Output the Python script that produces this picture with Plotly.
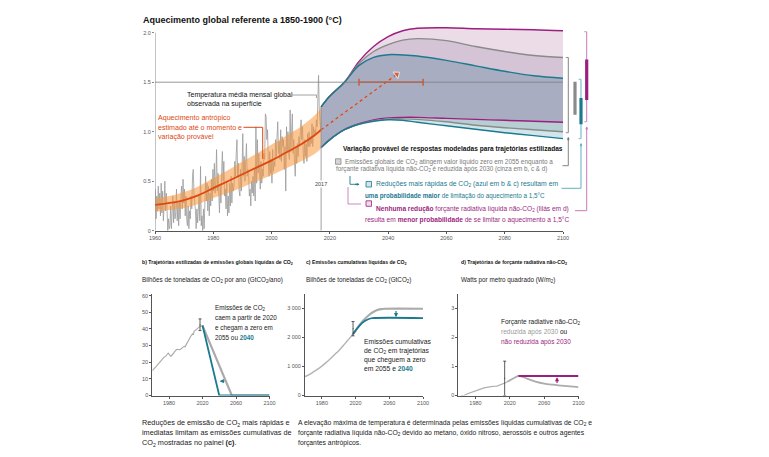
import plotly.graph_objects as go

W, H = 769, 457
FONT = "Liberation Sans, Arial, sans-serif"
TEAL = "#1b7a8f"
TEAL_LIGHT = "#5fb3c4"
PURPLE = "#9c1f80"
PURPLE_LIGHT = "#c77bb7"
ORANGE = "#e0480f"


def px(x):
    return x / W


def py(y):
    return 1 - y / H


# ---------------- DATA: panel a ----------------
temp_start_year = 1960
temp_quarterly = [
    0.42, 0.12, 0.35, 0.20, 0.45, 0.22, 0.38, 0.15, 0.48, 0.18, 0.40, 0.10,
    0.25, 0.50, 0.20, 0.38, 0.22, 0.00, 0.12, 0.02, 0.05, 0.25, 0.02, 0.22,
    0.35, 0.08, 0.30, 0.12, 0.18, 0.42, 0.10, 0.28, 0.05, 0.30, 0.12, 0.35,
    0.45, 0.22, 0.52, 0.28, 0.42, 0.15, 0.35, 0.12, 0.05, 0.25, 0.02, 0.20,
    0.12, 0.35, 0.22, 0.55, 0.62, 0.38, 0.30, 0.20, 0.02, 0.22, 0.08, 0.18,
    0.35, 0.10, 0.65, 0.05, 0.15, 0.00, 0.22, 0.02, 0.35, 0.55, 0.30, 0.48,
    0.20, 0.45, 0.15, 0.38, 0.25, 0.52, 0.30, 0.62, 0.40, 0.68, 0.38, 0.50,
    0.82, 0.40, 0.58, 0.30, 0.18, 0.45, 0.28, 0.60, 0.80, 0.50, 0.70, 0.35,
    0.42, 0.22, 0.50, 0.15, 0.35, 0.18, 0.48, 0.25, 0.55, 0.28, 0.48, 0.40,
    0.45, 0.70, 0.55, 0.78, 0.92, 0.55, 0.68, 0.40, 0.35, 0.62, 0.40, 0.60,
    0.98, 0.55, 0.75, 0.50, 0.70, 0.88, 0.55, 0.62, 0.58, 0.35, 0.42, 0.25,
    0.50, 0.38, 0.55, 0.35, 0.62, 0.30, 1.05, 0.48, 0.92, 0.58, 0.78, 0.50,
    0.42, 0.70, 0.48, 0.62, 0.55, 0.78, 0.72, 1.18, 1.15, 0.92, 1.02, 0.72,
    0.55, 0.80, 0.58, 0.72, 0.48, 0.82, 0.60, 0.70, 0.65, 0.92, 0.75, 0.95,
    1.10, 0.78, 0.90, 0.72, 1.02, 0.70, 0.95, 0.85, 0.92, 0.62, 0.85, 0.40,
    1.05, 0.80, 1.00, 0.78, 0.72, 1.22, 0.80, 1.00, 1.18, 0.78, 0.92, 0.70,
    0.55, 0.85, 0.68, 0.88, 0.75, 0.95, 0.85, 1.00, 1.12, 0.92, 1.05, 0.78,
    0.68, 0.92, 0.75, 0.88, 0.70, 0.98, 0.85, 1.00, 0.85, 0.95, 0.88, 1.08,
    0.85, 1.05, 0.95, 1.02, 0.98, 1.12, 1.05, 1.32, 1.57, 1.22, 1.10, 1.00,
    1.25, 1.05, 1.12, 1.02,
]

anth_years = [1960, 1965, 1970, 1975, 1980, 1985, 1990, 1995, 2000, 2005, 2010, 2015, 2017]
anth_central = [0.26, 0.28, 0.31, 0.36, 0.43, 0.50, 0.57, 0.64, 0.71, 0.79, 0.87, 0.97, 1.02]
anth_low = [0.19, 0.21, 0.23, 0.27, 0.33, 0.38, 0.44, 0.50, 0.56, 0.63, 0.70, 0.78, 0.83]
anth_high = [0.33, 0.35, 0.39, 0.45, 0.53, 0.61, 0.70, 0.78, 0.87, 0.96, 1.05, 1.17, 1.25]

extrap_years = [2017, 2043]
extrap_vals = [1.02, 1.58]
cross_range = [2030, 2052]
level_15 = 1.5

fan_years = [2017, 2020, 2025, 2030, 2035, 2040, 2045, 2050, 2060, 2070, 2080, 2090, 2100]
purple_top = [1.25, 1.36, 1.50, 1.71, 1.86, 1.96, 2.02, 2.045, 2.05, 2.04, 2.035, 2.03, 2.02]
gray_top = [1.25, 1.36, 1.50, 1.69, 1.81, 1.88, 1.925, 1.94, 1.92, 1.86, 1.81, 1.77, 1.75]
teal_top = [1.25, 1.36, 1.50, 1.67, 1.75, 1.778, 1.775, 1.765, 1.72, 1.665, 1.61, 1.565, 1.54]
purple_bot = [0.84, 0.92, 1.02, 1.08, 1.12, 1.14, 1.145, 1.145, 1.135, 1.125, 1.115, 1.105, 1.095]
gray_bot = [0.84, 0.92, 1.02, 1.078, 1.11, 1.13, 1.13, 1.125, 1.10, 1.065, 1.04, 1.02, 1.00]
teal_bot = [0.84, 0.92, 1.02, 1.075, 1.105, 1.12, 1.115, 1.095, 1.06, 1.025, 0.99, 0.96, 0.93]

# ranges shown right of 2100 (thin = full, thick = inner)
rng_gray_thin = [0.99, 1.75]
rng_gray_thick = [1.17, 1.505]
rng_teal_thin = [0.93, 1.53]
rng_teal_thick = [1.075, 1.34]
rng_purple_thin = [1.10, 2.01]
rng_purple_thick = [1.32, 1.73]

# ---------------- DATA: panel b ----------------
emis_years = [1960, 1962, 1964, 1966, 1968, 1970, 1972, 1974, 1976, 1978, 1979, 1980, 1982,
              1983, 1985, 1987, 1989, 1990, 1992, 1994, 1996, 1998, 1999, 2000, 2002, 2004,
              2006, 2008, 2009, 2010, 2012, 2014, 2016, 2017, 2020]
emis_hist = [15.0, 15.8, 17.0, 18.3, 19.6, 21.0, 22.0, 23.0, 23.5, 24.6, 25.5, 24.9, 23.6,
             23.9, 25.5, 26.5, 27.6, 27.8, 27.5, 27.8, 28.8, 29.5, 29.2, 30.2, 31.2, 33.6,
             35.6, 37.0, 36.4, 38.6, 39.6, 40.5, 41.0, 41.5, 42.0]
emis_gray_years = [2020, 2055, 2100]
emis_gray_proj = [42.0, 0.0, 0.0]
emis_teal_years = [2020, 2040, 2100]
emis_teal_proj = [42.0, 0.0, 0.0]
emis_unc_year = 2017
emis_unc = [39.0, 46.0]

# ---------------- DATA: panel c ----------------
cum_years = [1960, 1965, 1970, 1975, 1980, 1985, 1990, 1995, 2000, 2005, 2010, 2015, 2017]
cum_hist = [650, 720, 810, 905, 1010, 1130, 1260, 1400, 1540, 1700, 1870, 2040, 2110]
cum_gray_years = [2017, 2020, 2025, 2030, 2035, 2040, 2045, 2050, 2055, 2100]
cum_gray_proj = [2110, 2230, 2430, 2600, 2740, 2850, 2925, 2965, 2980, 2980]
cum_teal_years = [2017, 2020, 2025, 2030, 2035, 2040, 2100]
cum_teal_proj = [2110, 2230, 2410, 2540, 2620, 2655, 2655]
cum_unc_year = 2017
cum_unc = [2050, 2540]

# ---------------- DATA: panel d ----------------
forc_years = [1963, 1966, 1970, 1975, 1980, 1985, 1990, 1995, 2000, 2005, 2010, 2015, 2017]
forc_hist = [0.0, -0.01, 0.05, 0.11, 0.16, 0.21, 0.26, 0.29, 0.31, 0.32, 0.37, 0.44, 0.47]
forc_gray_years = [2017, 2020, 2025, 2030, 2035, 2040, 2050, 2060, 2070, 2080, 2090, 2100]
forc_gray_proj = [0.47, 0.52, 0.60, 0.67, 0.64, 0.58, 0.48, 0.41, 0.37, 0.34, 0.31, 0.29]
forc_purple_years = [2030, 2100]
forc_purple_proj = [0.67, 0.67]
forc_unc_year = 2014
forc_unc = [0.0, 1.18]

# ================= FIGURE =================
fig = go.Figure()


def sc(**kw):
    kw.setdefault("hoverinfo", "skip")
    kw.setdefault("showlegend", False)
    fig.add_trace(go.Scatter(**kw))


# --- panel a ---
t_x = [temp_start_year + 0.125 + 0.25 * i for i in range(len(temp_quarterly))]
sc(x=t_x, y=temp_quarterly, mode="lines", line=dict(color="#9b9b9b", width=0.8), xaxis="x", yaxis="y")

sc(x=anth_years, y=anth_high, mode="lines", line=dict(width=0, shape="spline"), xaxis="x", yaxis="y")
sc(x=anth_years, y=anth_low, mode="lines", line=dict(width=0, shape="spline"), fill="tonexty",
   fillcolor="rgba(247,152,60,0.55)", xaxis="x", yaxis="y")
sc(x=anth_years, y=anth_central, mode="lines", line=dict(color=ORANGE, width=1.8, shape="spline"),
   xaxis="x", yaxis="y")

fan_fill = [
    (purple_top, None),
    (gray_top, "#ecdce8"),
    (teal_top, "#d5c4d6"),
    (purple_bot, "#a9adc2"),
    (gray_bot, "#b7ced2"),
    (teal_bot, "#d0e6ea"),
]
for vals, fc in fan_fill:
    if fc is None:
        sc(x=fan_years, y=vals, mode="lines", line=dict(width=0, shape="spline"), xaxis="x", yaxis="y")
    else:
        sc(x=fan_years, y=vals, mode="lines", line=dict(width=0, shape="spline"), fill="tonexty",
           fillcolor=fc, xaxis="x", yaxis="y")
for vals, col in [(purple_top, PURPLE), (purple_bot, PURPLE), (gray_top, "#8a8a8a"),
                  (gray_bot, "#8a8a8a"), (teal_top, TEAL), (teal_bot, TEAL)]:
    sc(x=fan_years, y=vals, mode="lines", line=dict(color=col, width=1.4, shape="spline"),
       xaxis="x", yaxis="y")

sc(x=cross_range, y=[level_15, level_15], mode="lines+markers",
   line=dict(color="#d9461a", width=1.2),
   marker=dict(symbol="line-ns", size=5, line=dict(color="#d9461a", width=1.2)),
   xaxis="x", yaxis="y")
sc(x=extrap_years, y=extrap_vals, mode="lines+markers",
   line=dict(color=ORANGE, width=1.3, dash="dot"),
   marker=dict(symbol=["circle", "triangle-up"], size=[6, 7], color=ORANGE, angleref="previous"),
   xaxis="x", yaxis="y")

# --- panel b ---
sc(x=emis_years, y=emis_hist, mode="lines", line=dict(color="#a9a9a9", width=1.1), xaxis="x2", yaxis="y2")
sc(x=emis_gray_years, y=emis_gray_proj, mode="lines", line=dict(color="#ababab", width=2.2), xaxis="x2", yaxis="y2")
sc(x=emis_teal_years, y=emis_teal_proj, mode="lines", line=dict(color=TEAL, width=1.8), xaxis="x2", yaxis="y2")
sc(x=[emis_unc_year], y=[(emis_unc[0] + emis_unc[1]) / 2], mode="markers", marker=dict(size=1, color="#333"),
   error_y=dict(type="data", symmetric=True, array=[(emis_unc[1] - emis_unc[0]) / 2],
                color="#333", thickness=0.8, width=1.5), xaxis="x2", yaxis="y2")

# --- panel c ---
sc(x=cum_years, y=cum_hist, mode="lines", line=dict(color="#b3b3b3", width=1.4, shape="spline"), xaxis="x3", yaxis="y3")
sc(x=cum_gray_years, y=cum_gray_proj, mode="lines", line=dict(color="#ababab", width=2.2, shape="spline"), xaxis="x3", yaxis="y3")
sc(x=cum_teal_years, y=cum_teal_proj, mode="lines", line=dict(color=TEAL, width=1.8, shape="spline"), xaxis="x3", yaxis="y3")
sc(x=[cum_unc_year], y=[(cum_unc[0] + cum_unc[1]) / 2], mode="markers", marker=dict(size=1, color="#333"),
   error_y=dict(type="data", symmetric=True, array=[(cum_unc[1] - cum_unc[0]) / 2],
                color="#333", thickness=0.8, width=1.5), xaxis="x3", yaxis="y3")

# --- panel d ---
sc(x=forc_years, y=forc_hist, mode="lines", line=dict(color="#b0b0b0", width=1.2), xaxis="x4", yaxis="y4")
sc(x=forc_gray_years, y=forc_gray_proj, mode="lines", line=dict(color="#acacac", width=1.8, shape="spline"), xaxis="x4", yaxis="y4")
sc(x=forc_purple_years, y=forc_purple_proj, mode="lines", line=dict(color=PURPLE, width=1.8), xaxis="x4", yaxis="y4")
sc(x=[forc_unc_year], y=[(forc_unc[0] + forc_unc[1]) / 2], mode="markers", marker=dict(size=1, color="#333"),
   error_y=dict(type="data", symmetric=True, array=[(forc_unc[1] - forc_unc[0]) / 2],
                color="#333", thickness=0.8, width=1.5), xaxis="x4", yaxis="y4", cliponaxis=False)

# ================= AXES =================
tickfont = dict(family=FONT, size=5.5, color="#555")
small_ax = dict(showline=True, linecolor="#555", linewidth=1, ticks="outside", ticklen=2, tickwidth=0.8,
                tickcolor="#555", showgrid=False, zeroline=False, tickfont=tickfont, automargin=False)

yd = [py(395.5), py(293.6)]
layout_axes = dict(
    xaxis=dict(domain=[px(155), px(563)], range=[1960, 2100], tickvals=list(range(1960, 2101, 20)),
               anchor="y", **small_ax),
    yaxis=dict(domain=[py(230.7), py(22.8)], range=[0, 2.1], tickvals=[0, 0.5, 1.0, 1.5, 2.0],
               ticktext=["0", "0.5", "1.0", "1.5", "2.0"], anchor="x", showline=False, ticks="outside",
               ticklen=2, tickcolor="#888", showgrid=False, zeroline=False, tickfont=tickfont,
               automargin=False),
    xaxis2=dict(domain=[px(152.3), px(269.5)], range=[1960, 2100], tickvals=[1980, 2020, 2060, 2100],
                anchor="y2", **small_ax),
    yaxis2=dict(domain=yd, range=[0, 61.2], tickvals=[0, 10, 20, 30, 40, 50, 60], anchor="x2", **small_ax),
    xaxis3=dict(domain=[px(305), px(423)], range=[1960, 2100], tickvals=[1980, 2020, 2060, 2100],
                anchor="y3", **small_ax),
    yaxis3=dict(domain=yd, range=[0, 3500], tickvals=[0, 1000, 2000, 3000],
                ticktext=["0", "1 000", "2 000", "3 000"], anchor="x3", **small_ax),
    xaxis4=dict(domain=[px(458.3), px(578.5)], range=[1960, 2100], tickvals=[1980, 2020, 2060, 2100],
                anchor="y4", **small_ax),
    yaxis4=dict(domain=yd, range=[0, 3.5], tickvals=[0, 1, 2, 3], anchor="x4", **small_ax),
)

# ================= SHAPES =================
shapes = []


def pline(points, color, width=1.0):
    path = "M " + " L ".join(f"{px(x):.5f},{py(y):.5f}" for x, y in points)
    shapes.append(dict(type="path", xref="paper", yref="paper", path=path,
                       line=dict(color=color, width=width), layer="above"))


shapes.append(dict(type="line", xref="x", yref="y", x0=1960, x1=1960, y0=0, y1=2.0,
                   line=dict(color="#888", width=1)))
shapes.append(dict(type="line", xref="x", yref="y", x0=1960, x1=2100, y0=level_15, y1=level_15,
                   line=dict(color="#7d7d7d", width=0.8), layer="above"))
shapes.append(dict(type="line", xref="x", yref="y", x0=2017, x1=2017, y0=0, y1=1.25,
                   line=dict(color="#8a8a8a", width=0.8), layer="above"))


def vbar(xpix, rng, color, width, caps=False):
    shapes.append(dict(type="line", xref="paper", yref="y", x0=px(xpix), x1=px(xpix),
                       y0=rng[0], y1=rng[1], line=dict(color=color, width=width)))
    if caps:
        for v in rng:
            shapes.append(dict(type="line", xref="paper", yref="y", x0=px(xpix - 2.5), x1=px(xpix),
                               y0=v, y1=v, line=dict(color=color, width=0.8)))


vbar(568.3, rng_gray_thin, "#777", 0.9, caps=True)
vbar(575.0, rng_gray_thick, "#8a8a8a", 3.2)
vbar(581.0, rng_teal_thin, TEAL_LIGHT, 1.0, caps=True)
vbar(581.0, rng_teal_thick, TEAL, 3.2)
vbar(586.7, rng_purple_thin, PURPLE_LIGHT, 1.0, caps=True)
vbar(586.7, rng_purple_thick, PURPLE, 3.2)

pline([(568.3, 137.5), (568.3, 165.7), (562.5, 165.7)], "#777", 0.9)
pline([(581.0, 144.0), (581.0, 188.3), (561.5, 188.3)], TEAL_LIGHT, 1.0)
pline([(586.7, 127.0), (586.7, 210.7), (575.0, 210.7)], PURPLE_LIGHT, 1.0)
pline([(350.0, 176.0), (350.0, 184.3), (357.5, 184.3)], TEAL, 0.9)
pline([(348.0, 187.0), (348.0, 204.0), (361.0, 204.0)], PURPLE_LIGHT, 0.9)
pline([(243.5, 127.3), (262.7, 127.3), (262.7, 159.0)], ORANGE, 1.0)
pline([(292.5, 95.0), (316.5, 95.0), (316.5, 98.0)], "#8a8a8a", 0.8)

for (x0, y0, lc, fc) in [(335.5, 158.8, "#888", "#d6d6d6"), (366.0, 181.5, TEAL, "#d0e6ea"),
                         (366.0, 200.8, PURPLE, "#ecdce8")]:
    shapes.append(dict(type="rect", xref="paper", yref="paper", x0=px(x0), x1=px(x0 + 5.5),
                       y0=py(y0 + 5.5), y1=py(y0), line=dict(color=lc, width=0.8), fillcolor=fc))

# ================= ANNOTATIONS =================
ann = []


def txt(x, y, s, size=7.0, color="#222", anchor="left", bg=None):
    d = dict(xref="paper", yref="paper", x=px(x), y=py(y), text=s, showarrow=False,
             xanchor=anchor, yanchor="middle", font=dict(family=FONT, size=size, color=color),
             borderpad=0)
    if bg:
        d["bgcolor"] = bg
    ann.append(d)


def arrow(xr, yr, x, y, ax, ay, color, size=0.7, width=1.2):
    ann.append(dict(xref=xr, yref=yr, axref=xr, ayref=yr, x=x, y=y, ax=ax, ay=ay, text="",
                    showarrow=True, arrowhead=2, arrowsize=size, arrowwidth=width, arrowcolor=color))


def parrow(x, y, dx, dy, color):
    ann.append(dict(xref="paper", yref="paper", x=px(x), y=py(y), ax=dx, ay=dy, text="",
                    showarrow=True, arrowhead=2, arrowsize=0.6, arrowwidth=0.9, arrowcolor=color))


C2 = "CO<sub>2</sub>"
txt(142, 20, "<b>Aquecimento global referente a 1850-1900 (°C)</b>", 9.0, "#111")
txt(186, 95, "Temperatura média mensal global", 7.0, "#111")
txt(186, 104, "observada na superfície", 7.0, "#111")
txt(157, 118, "Aquecimento antrópico", 7.1, ORANGE)
txt(157, 127.5, "estimado até o momento e", 7.1, ORANGE)
txt(157, 137, "variação provável", 7.1, ORANGE)
txt(321, 184, "2017", 5.5, "#444", anchor="center", bg="white")

txt(342, 148.5, "<b>Variação provável de respostas modeladas para trajetórias estilizadas</b>", 6.6, "#111")
txt(344, 161.5, f"Emissões globais de {C2} atingem valor líquido zero em 2055 enquanto a", 6.4, "#7a7a7a")
txt(335, 169.5, f"forçante radiativa líquida não-{C2} é reduzida após 2030 (cinza em b, c & d)", 6.3, "#7a7a7a")
txt(375, 184.3, f"Reduções mais rápidas de {C2} (azul em b & c) resultam em", 6.8, TEAL)
txt(364, 196, "<b>uma probabilidade maior</b> de limitação do aquecimento a 1,5°C", 6.3, TEAL)
txt(374.5, 209.5, f"<b>Nenhuma redução</b> forçante radiativa líquida não-{C2} (lilás em d)", 6.6, PURPLE)
txt(364, 220, "resulta em <b>menor probabilidade</b> de se limitar o aquecimento a 1,5°C", 6.6, PURPLE)

parrow(359.5, 184.3, -6, 0, TEAL)
parrow(568.3, 137.0, 0, 5, "#777")
parrow(581.0, 143.0, 0, 5, TEAL_LIGHT)
parrow(586.7, 126.5, 0, 5, PURPLE_LIGHT)

PT = 5.15
UN = 6.3
# panel b
txt(141, 262.3, f"<b>b) Trajetórias estilizadas de emissões globais líquidas de {C2}</b>", PT, "#111")
txt(141, 280, f"Bilhões de toneladas de {C2} por ano (GtCO<sub>2</sub>/ano)", UN, "#222")
BA = 6.35
txt(214, 308, f"Emissões de {C2}", BA)
txt(214, 318, "caem a partir de 2020", BA)
txt(214, 327.5, "e chegam a zero em", BA)
txt(214, 337, f"2055 ou <b><span style='color:{TEAL}'>2040</span></b>", BA)
arrow("x2", "y2", 2040.5, 8.6, 2048, 8.6, TEAL)
txt(141, 422.7, f"Reduções de emissão de {C2} mais rápidas e", 7.3)
txt(141, 432.7, "imediatas limitam as emissões cumulativas de", 7.3)
txt(141, 442.7, f"{C2} mostradas no painel <b>(c)</b>.", 7.3)

# panel c
txt(305, 262.3, f"<b>c) Emissões cumulativas líquidas de {C2}</b>", PT, "#111")
txt(305, 280, f"Bilhões de toneladas de {C2} (GtCO<sub>2</sub>)", UN, "#222")
CA = 6.75
txt(362.7, 341.7, "Emissões cumulativas", CA)
txt(362.7, 350.8, f"de {C2} em trajetórias", CA)
txt(362.7, 359.8, "que cheguem a zero", CA)
txt(362.7, 368.8, f"em 2055 e <b><span style='color:{TEAL}'>2040</span></b>", CA)
arrow("x3", "y3", 2068, 2690, 2068, 2950, TEAL)
txt(297, 422.7, f"A elevação máxima de temperatura é determinada pelas emissões líquidas cumulativas de {C2} e", 6.8)
txt(297, 432.7, f"forçante radiativa líquida não-{C2} devido ao metano, óxido nitroso, aerossóis e outros agentes", 6.8)
txt(297, 442.7, "forçantes antrópicos.", 6.8)

# panel d
txt(460, 262.3, f"<b>d) Trajetórias de forçante radiativa não-{C2}</b>", PT, "#111")
txt(460, 280, "Watts por metro quadrado (W/m<sub>2</sub>)", UN, "#222")
txt(500, 322, f"Forçante radiative não-{C2}", 6.5)
txt(500, 332, f"<span style='color:#9a9a9a'>reduzida após 2030</span> ou", 6.5)
txt(500, 342, "não reduzida após 2030", 6.5, PURPLE)
arrow("x4", "y4", 2075, 0.63, 2075, 0.38, PURPLE)

fig.update_layout(
    width=W, height=H, autosize=False, margin=dict(l=0, r=0, t=0, b=0, pad=0),
    paper_bgcolor="white", plot_bgcolor="white", showlegend=False,
    font=dict(family=FONT, size=7, color="#222"),
    shapes=shapes, annotations=ann, **layout_axes,
)

fig.write_html(
    "out.html",
    config={"responsive": False, "displayModeBar": False},
    post_script="document.body.style.margin='0px';document.body.style.padding='0px';document.body.style.overflow='hidden';",
)
